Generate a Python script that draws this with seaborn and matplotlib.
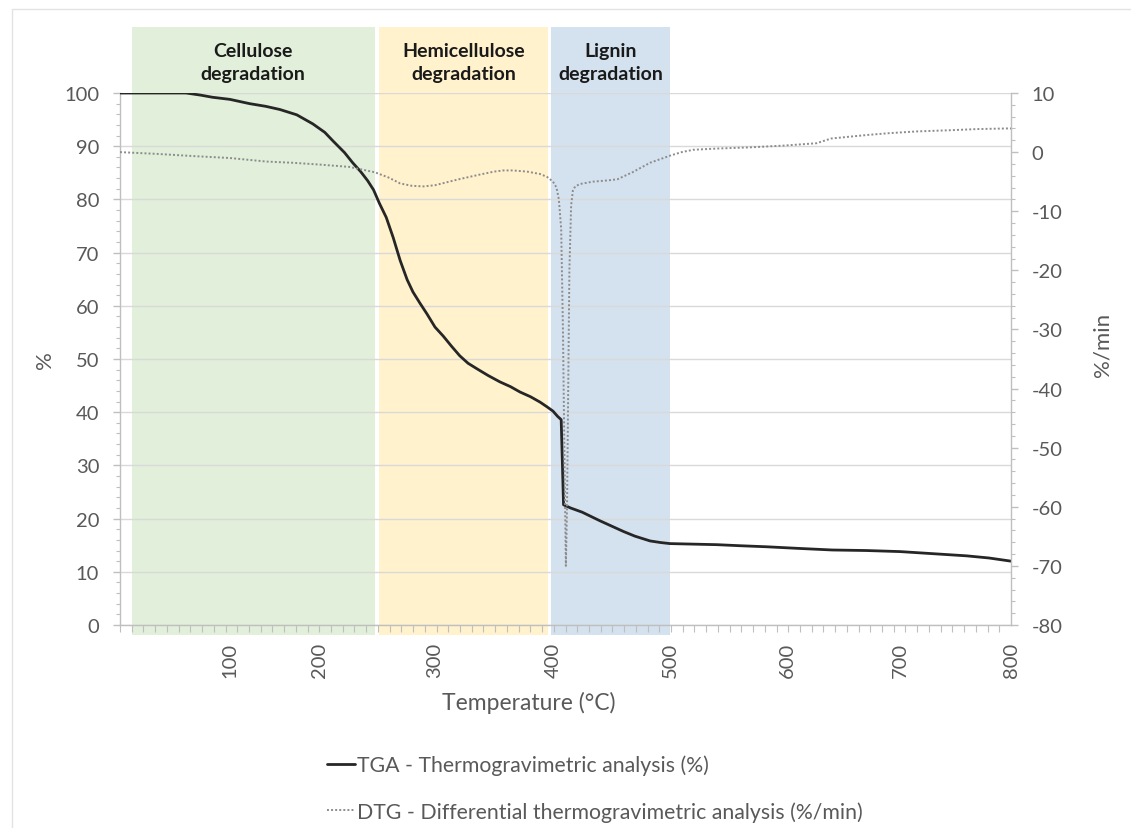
import numpy as np
import matplotlib
matplotlib.use("Agg")
import matplotlib.pyplot as plt
from matplotlib.lines import Line2D
from matplotlib.patches import Rectangle
import seaborn as sns

# ---- TGA: residual mass (%) against temperature (°C) ----
tga_temp = [25, 45, 70, 80, 88, 100, 122, 140, 156, 175, 193, 205, 212, 222, 229,
            236, 242, 247, 252, 258, 264, 270, 276, 281, 287, 293, 300, 307, 314,
            321, 328, 336, 345, 355, 364, 372, 381, 389, 395, 400, 404, 407, 409,
            412, 415, 425, 440, 450, 460, 470, 483, 492, 500, 520, 540, 560, 583,
            610, 640, 670, 700, 730, 760, 780, 790, 800]
tga_mass = [100, 100, 100, 99.6, 99.2, 98.8, 98.0, 97.5, 96.9, 95.9, 94.2, 92.6, 91.0,
            88.8, 86.9, 85.2, 83.5, 81.8, 79.3, 76.6, 72.8, 68.5, 64.9, 62.6, 60.5,
            58.5, 56.0, 54.3, 52.4, 50.6, 49.2, 48.1, 46.9, 45.7, 44.8, 43.8, 42.9,
            41.9, 41.0, 40.2, 39.2, 38.6, 22.6, 22.3, 22.0, 21.2, 19.6, 18.6, 17.6,
            16.7, 15.8, 15.5, 15.3, 15.2, 15.1, 14.9, 14.7, 14.4, 14.1, 14.0, 13.8,
            13.4, 13.0, 12.6, 12.3, 12.0]

# ---- DTG: mass loss rate (%/min) against temperature (°C) ----
dtg_temp = [25, 50, 77, 100, 141, 170, 200, 226, 248, 260, 270, 280, 290, 300, 308,
            320, 338, 350, 358, 366, 378, 389, 395, 400, 403, 405, 407, 408.5, 410,
            411, 412, 413, 414, 415.5, 417, 419, 423, 434, 446, 455, 468, 483, 500,
            510, 520, 540, 568, 597, 626, 631, 639, 655, 671, 690, 715, 745, 770,
            796, 800]
dtg_rate = [0.0, -0.3, -0.7, -1.0, -1.6, -1.8, -2.1, -2.5, -3.4, -4.3, -5.3, -5.7,
            -5.8, -5.6, -5.2, -4.6, -3.8, -3.3, -3.1, -3.1, -3.3, -3.7, -4.2, -5.0,
            -6.0, -8.0, -13.0, -30.0, -55.0, -70.0, -60.0, -40.0, -20.0, -9.0, -6.5,
            -5.8, -5.4, -5.0, -4.8, -4.6, -3.4, -1.8, -0.6, 0.0, 0.4, 0.6, 0.8, 1.1,
            1.5, 1.8, 2.3, 2.6, 2.9, 3.2, 3.5, 3.7, 3.9, 4.0, 4.0]

# ---- Degradation stages (°C) ----
stage_names = ["Cellulose\ndegradation", "Hemicellulose\ndegradation", "Lignin\ndegradation"]
stage_start = [33, 252, 398]
stage_end = [248, 396, 500]
stage_colors = ["#E2EFDA", "#FFF2CC", "#D4E1EE"]

x_ticks = [100, 200, 300, 400, 500, 600, 700, 800]
left_ticks = list(range(0, 101, 10))
right_ticks = list(range(-80, 11, 10))

# The temperature axis follows the logger's sample index, so it is uneven in °C.
axis_temp = [25, 100, 200, 300, 400, 500, 600, 700, 800]
axis_pos = [0, 110, 199, 315, 433, 550, 667, 780, 891]


def _piecewise(x, xp, fp):
    x = np.asarray(x, dtype=float)
    y = np.interp(x, xp, fp)
    s0 = (fp[1] - fp[0]) / (xp[1] - xp[0])
    s1 = (fp[-1] - fp[-2]) / (xp[-1] - xp[-2])
    y = np.where(x < xp[0], fp[0] + (x - xp[0]) * s0, y)
    y = np.where(x > xp[-1], fp[-1] + (x - xp[-1]) * s1, y)
    return y


def temp_to_pos(t):
    return _piecewise(t, axis_temp, axis_pos)


def pos_to_temp(p):
    return _piecewise(p, axis_pos, axis_temp)


sns.set_style("white")
plt.rcParams["font.family"] = ["Lato", "DejaVu Sans"]
plt.rcParams["axes.unicode_minus"] = False

TXT = "#595959"
AXC = "#BFBFBF"
GRID = "#D9D9D9"

W, H = 1131, 829
fig = plt.figure(figsize=(W / 100, H / 100), dpi=100)
ax = fig.add_axes([120 / W, 1 - 626 / H, (1011 - 120) / W, (626 - 94) / H])
ax.patch.set_alpha(0)

# TGA curve
sns.lineplot(x=tga_temp, y=tga_mass, ax=ax, color="#262626", linewidth=2.0,
             estimator=None, zorder=3)

# DTG curve on the secondary axis
ax2 = ax.twinx()
sns.lineplot(x=dtg_temp, y=dtg_rate, ax=ax2, color="#8C8C8C", linewidth=1.4,
             linestyle=(0, (1, 1.1)), estimator=None, zorder=3)

ax.set_xscale("function", functions=(temp_to_pos, pos_to_temp))
ax.set_xlim(25, 800)
ax.set_ylim(0, 100)
ax2.set_ylim(-80, 10)

# Stage bands reaching above the plotting area
plot_h = 626 - 94
for s, e, c, name in zip(stage_start, stage_end, stage_colors, stage_names):
    ax.axvspan(s, e, ymin=-10 / plot_h, ymax=(626 - 28) / plot_h, color=c,
               lw=0, zorder=0.1, clip_on=False)
    mid = float(pos_to_temp((temp_to_pos(s) + temp_to_pos(e)) / 2))
    ax.text(mid, (626 - 63) / plot_h, name, transform=ax.get_xaxis_transform(),
            ha="center", va="center", fontsize=14, fontweight="bold",
            color="#1A1A1A", linespacing=1.45, zorder=5)

# Grid and spines
ax.set_axisbelow(True)
ax.yaxis.grid(True, color=GRID, linewidth=1.0)
ax.xaxis.grid(False)
ax2.grid(False)
for a in (ax, ax2):
    a.spines["top"].set_visible(False)
ax.spines["right"].set_visible(False)
ax2.spines["left"].set_visible(False)
ax2.spines["bottom"].set_visible(False)
for sp in (ax.spines["left"], ax.spines["bottom"], ax2.spines["right"]):
    sp.set_color(AXC)
    sp.set_linewidth(1.0)

# Y ticks
ax.set_yticks(left_ticks)
ax.set_yticks(np.arange(0, 101, 2), minor=True)
ax2.set_yticks(right_ticks)
ax2.set_yticks(np.arange(-80, 11, 2), minor=True)
ax.tick_params(axis="y", which="major", direction="out", length=5, width=1,
               color=AXC, labelcolor=TXT, labelsize=14.5, pad=10, left=True)
ax.tick_params(axis="y", which="minor", direction="out", length=3, width=0.8,
               color=AXC, left=True)
ax2.tick_params(axis="y", which="major", direction="out", length=5, width=1,
                color=AXC, labelcolor=TXT, labelsize=14.5, pad=10, right=True)
ax2.tick_params(axis="y", which="minor", direction="out", length=3, width=0.8,
                color=AXC, right=True)

# X ticks: labels at round temperatures, tick marks evenly spaced along the axis
ax.set_xticks(x_ticks)
ax.set_xticklabels([str(t) for t in x_ticks], rotation=90)
minor_x = pos_to_temp(np.linspace(axis_pos[0], axis_pos[-1], 77))
ax.set_xticks(minor_x, minor=True)
ax.tick_params(axis="x", which="major", direction="out", length=0,
               labelcolor=TXT, labelsize=14.5, pad=12, bottom=True)
ax.tick_params(axis="x", which="minor", direction="out", length=5, width=0.8,
               color=AXC, bottom=True)

ax.set_xlabel("")
ax.set_ylabel("")
ax2.set_ylabel("")

# Axis titles
fig.text(529 / W, 1 - 703 / H, "Temperature (°C)", ha="center", va="center",
         fontsize=16.5, color=TXT)
fig.text(45 / W, 1 - 360 / H, "%", ha="center", va="center", rotation=90,
         fontsize=16, color=TXT)
fig.text(1102 / W, 1 - 345 / H, "%/min", ha="center", va="center", rotation=90,
         fontsize=16, color=TXT)

# Legend below the chart
handles = [
    Line2D([], [], color="#262626", linewidth=2.0),
    Line2D([], [], color="#8C8C8C", linewidth=1.4, linestyle=(0, (1, 1.1))),
]
labels = ["TGA - Thermogravimetric analysis (%)",
          "DTG - Differential thermogravimetric analysis (%/min)"]
fig.legend(handles, labels, loc="center left",
           bbox_to_anchor=(327 / W, 1 - 789 / H), frameon=False,
           fontsize=15.3, labelcolor=TXT, handlelength=1.32,
           handletextpad=0.1, labelspacing=1.22, borderpad=0,
           borderaxespad=0)

# Thin chart-area border
fig.add_artist(Rectangle((12 / W, -0.1), 1.5, 1.1 - 10 / H, transform=fig.transFigure,
                         fill=False, edgecolor="#E3E3E3", linewidth=1.0))

fig.savefig("out.png", dpi=100)
